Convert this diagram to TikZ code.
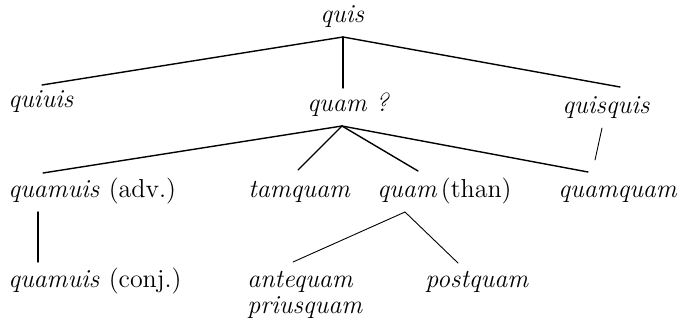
\documentclass[tikz,border=0pt]{standalone}
\usetikzlibrary{calc}
\begin{document}
\begin{tikzpicture}[x=0.5pt,y=-0.5pt,
  lbl/.style={anchor=base west,inner sep=0pt,font=\fontsize{13}{15}\selectfont\itshape},
  edge/.style={line width=0.7pt,line cap=round},
  thinedge/.style={line width=0.45pt,line cap=round}]
\useasboundingbox[fill=white] (0,0) rectangle (685,326);
% row 1
\node[lbl] (quis) at (320,23) {quis};
% row 2
\node[lbl] (quiuis) at (8,108) {quiuis};
\node[lbl] (quam) at (307,112) {quam ?};
\node[lbl] (quisquis) at (562,113) {quisquis};
% row 3
\node[lbl] (quamuisadv) at (8,198) {quamuis \textup{(adv.)}};
\node[lbl] (tamquam) at (248,198) {tamquam};
\node[lbl] (quamthan) at (377,198) {quam\,\textup{(than)}};
\node[lbl] (quamquam) at (558,198) {quamquam};
% row 4
\node[lbl] (quamuisconj) at (8,287) {quamuis \textup{(conj.)}};
\node[lbl] (antequam) at (247,287) {antequam};
\node[lbl] (priusquam) at (247,313) {priusquam};
\node[lbl] (postquam) at (425,287) {postquam};
% connectors
\draw[edge] ($(quis.base west)+(23,14)$) -- ($(quiuis.base west)+(34,-23)$);
\draw[edge] ($(quis.base west)+(23,14)$) -- ($(quam.base west)+(36,-24)$);
\draw[edge] ($(quis.base west)+(23,14)$) -- ($(quisquis.base west)+(58,-26)$);
\draw[edge] ($(quam.base west)+(35,14)$) -- ($(quamuisadv.base west)+(35,-25)$);
\draw[edge] ($(quam.base west)+(35,14)$) -- ($(tamquam.base west)+(50,-28)$);
\draw[edge] ($(quam.base west)+(35,14)$) -- ($(quamthan.base west)+(41,-27)$);
\draw[edge] ($(quam.base west)+(35,14)$) -- ($(quamquam.base west)+(30,-26)$);
\draw[thinedge] ($(quisquis.base west)+(40,15)$) -- ($(quamquam.base west)+(37,-38)$);
\draw[edge] ($(quamuisadv.base west)+(30,14)$) -- ($(quamuisconj.base west)+(30,-25)$);
\draw[thinedge] ($(quamthan.base west)+(28,14)$) -- ($(antequam.base west)+(46,-25)$);
\draw[thinedge] ($(quamthan.base west)+(28,14)$) -- ($(postquam.base west)+(33,-24)$);
\end{tikzpicture}
\end{document}
